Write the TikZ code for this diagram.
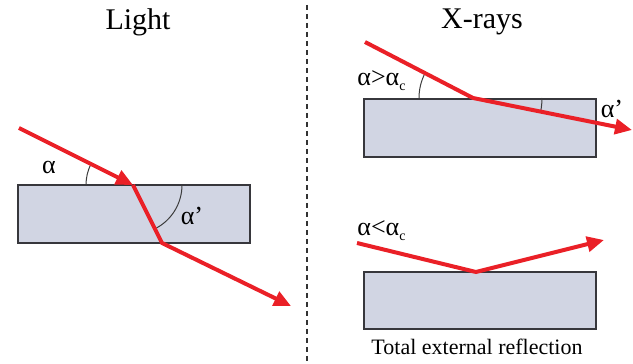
\documentclass[tikz,border=0pt]{standalone}
\usepackage{fontspec}
\setmainfont{Liberation Serif}
\usepackage{tikz}
\usetikzlibrary{arrows.meta,positioning}
\definecolor{raysred}{RGB}{234,32,39}
\definecolor{slabfill}{RGB}{209,213,227}
\definecolor{slabedge}{RGB}{55,55,60}
\definecolor{arcgray}{RGB}{60,60,60}
\newcommand{\critsub}{\raisebox{-2.5pt}{\fontsize{7}{8}\selectfont c}}

\begin{document}
\begin{tikzpicture}[x=0.5pt,y=0.5pt,
    slab/.style={draw=slabedge,fill=slabfill,line width=0.75pt,
                 minimum width=116pt,minimum height=29pt,inner sep=0pt},
    ray/.style={draw=raysred,line width=2pt,line join=miter},
    rayarr/.style={ray,-{Triangle[length=8.5pt,width=7.5pt]}},
    arcline/.style={draw=arcgray,line width=0.5pt},
    title/.style={font=\fontsize{15}{17}\selectfont},
    lbl/.style={font=\fontsize{13}{15}\selectfont,inner sep=0pt}
  ]
    \useasboundingbox (0,0) rectangle (633,364);
    % headings and divider
    \node[title] (tl) at (138,342) {Light};
    \node[title] (tx) at (482,342) {X-rays};
    \coordinate (dtop) at (307,359);
    \coordinate (dbot) at (307,0);
    \draw[line width=1pt,dash pattern=on 2.5pt off 2pt,black!80] (dtop) -- (dbot);

    % light: refraction
    \node[slab,minimum height=29pt] (sl) at (134,150) {};
    \coordinate (l0) at (19,236);
    \coordinate (l1) at (133,179);
    \coordinate (l2) at (162,121);
    \coordinate (l3) at (291,58);
    \draw[arcline] (l1) ++(180:47) arc[start angle=180,end angle=153.4,radius=47];
    \draw[arcline] (l1) ++(0:49) arc[start angle=0,end angle=-63.4,radius=49];
    \draw[rayarr] (l0) -- (l1);
    \draw[rayarr] (l1) -- (l2) -- (l3);
    \node[lbl] (la) at (49,197) {α};
    \node[lbl] (lb) at (192,148) {α’};

    % x-rays: alpha above critical
    \node[slab] (su) at (480,236) {};
    \coordinate (u0) at (365,322);
    \coordinate (u1) at (473,266);
    \coordinate (u2) at (632,234);
    \draw[arcline] (u1) ++(180:54) arc[start angle=180,end angle=152.6,radius=54];
    \draw[arcline] (u1) ++(0:69) arc[start angle=0,end angle=-11.3,radius=69];
    \draw[rayarr] (u0) -- (u1) -- (u2);
    \node[lbl,anchor=west] (ua) at (357,283) {α>α\critsub};
    \node[lbl] (ub) at (612,255) {α’};

    % x-rays: total external reflection
    \node[slab,minimum height=28.5pt] (sd) at (480,63.5) {};
    \coordinate (d0) at (357,121);
    \coordinate (d1) at (476,92);
    \coordinate (d2) at (604,124);
    \draw[rayarr] (d0) -- (d1) -- (d2);
    \node[lbl,anchor=west] (da) at (357,133) {α<α\critsub};
    \node[font=\fontsize{11}{13}\selectfont] (dt) at (477,17) {Total external reflection};
\end{tikzpicture}
\end{document}
